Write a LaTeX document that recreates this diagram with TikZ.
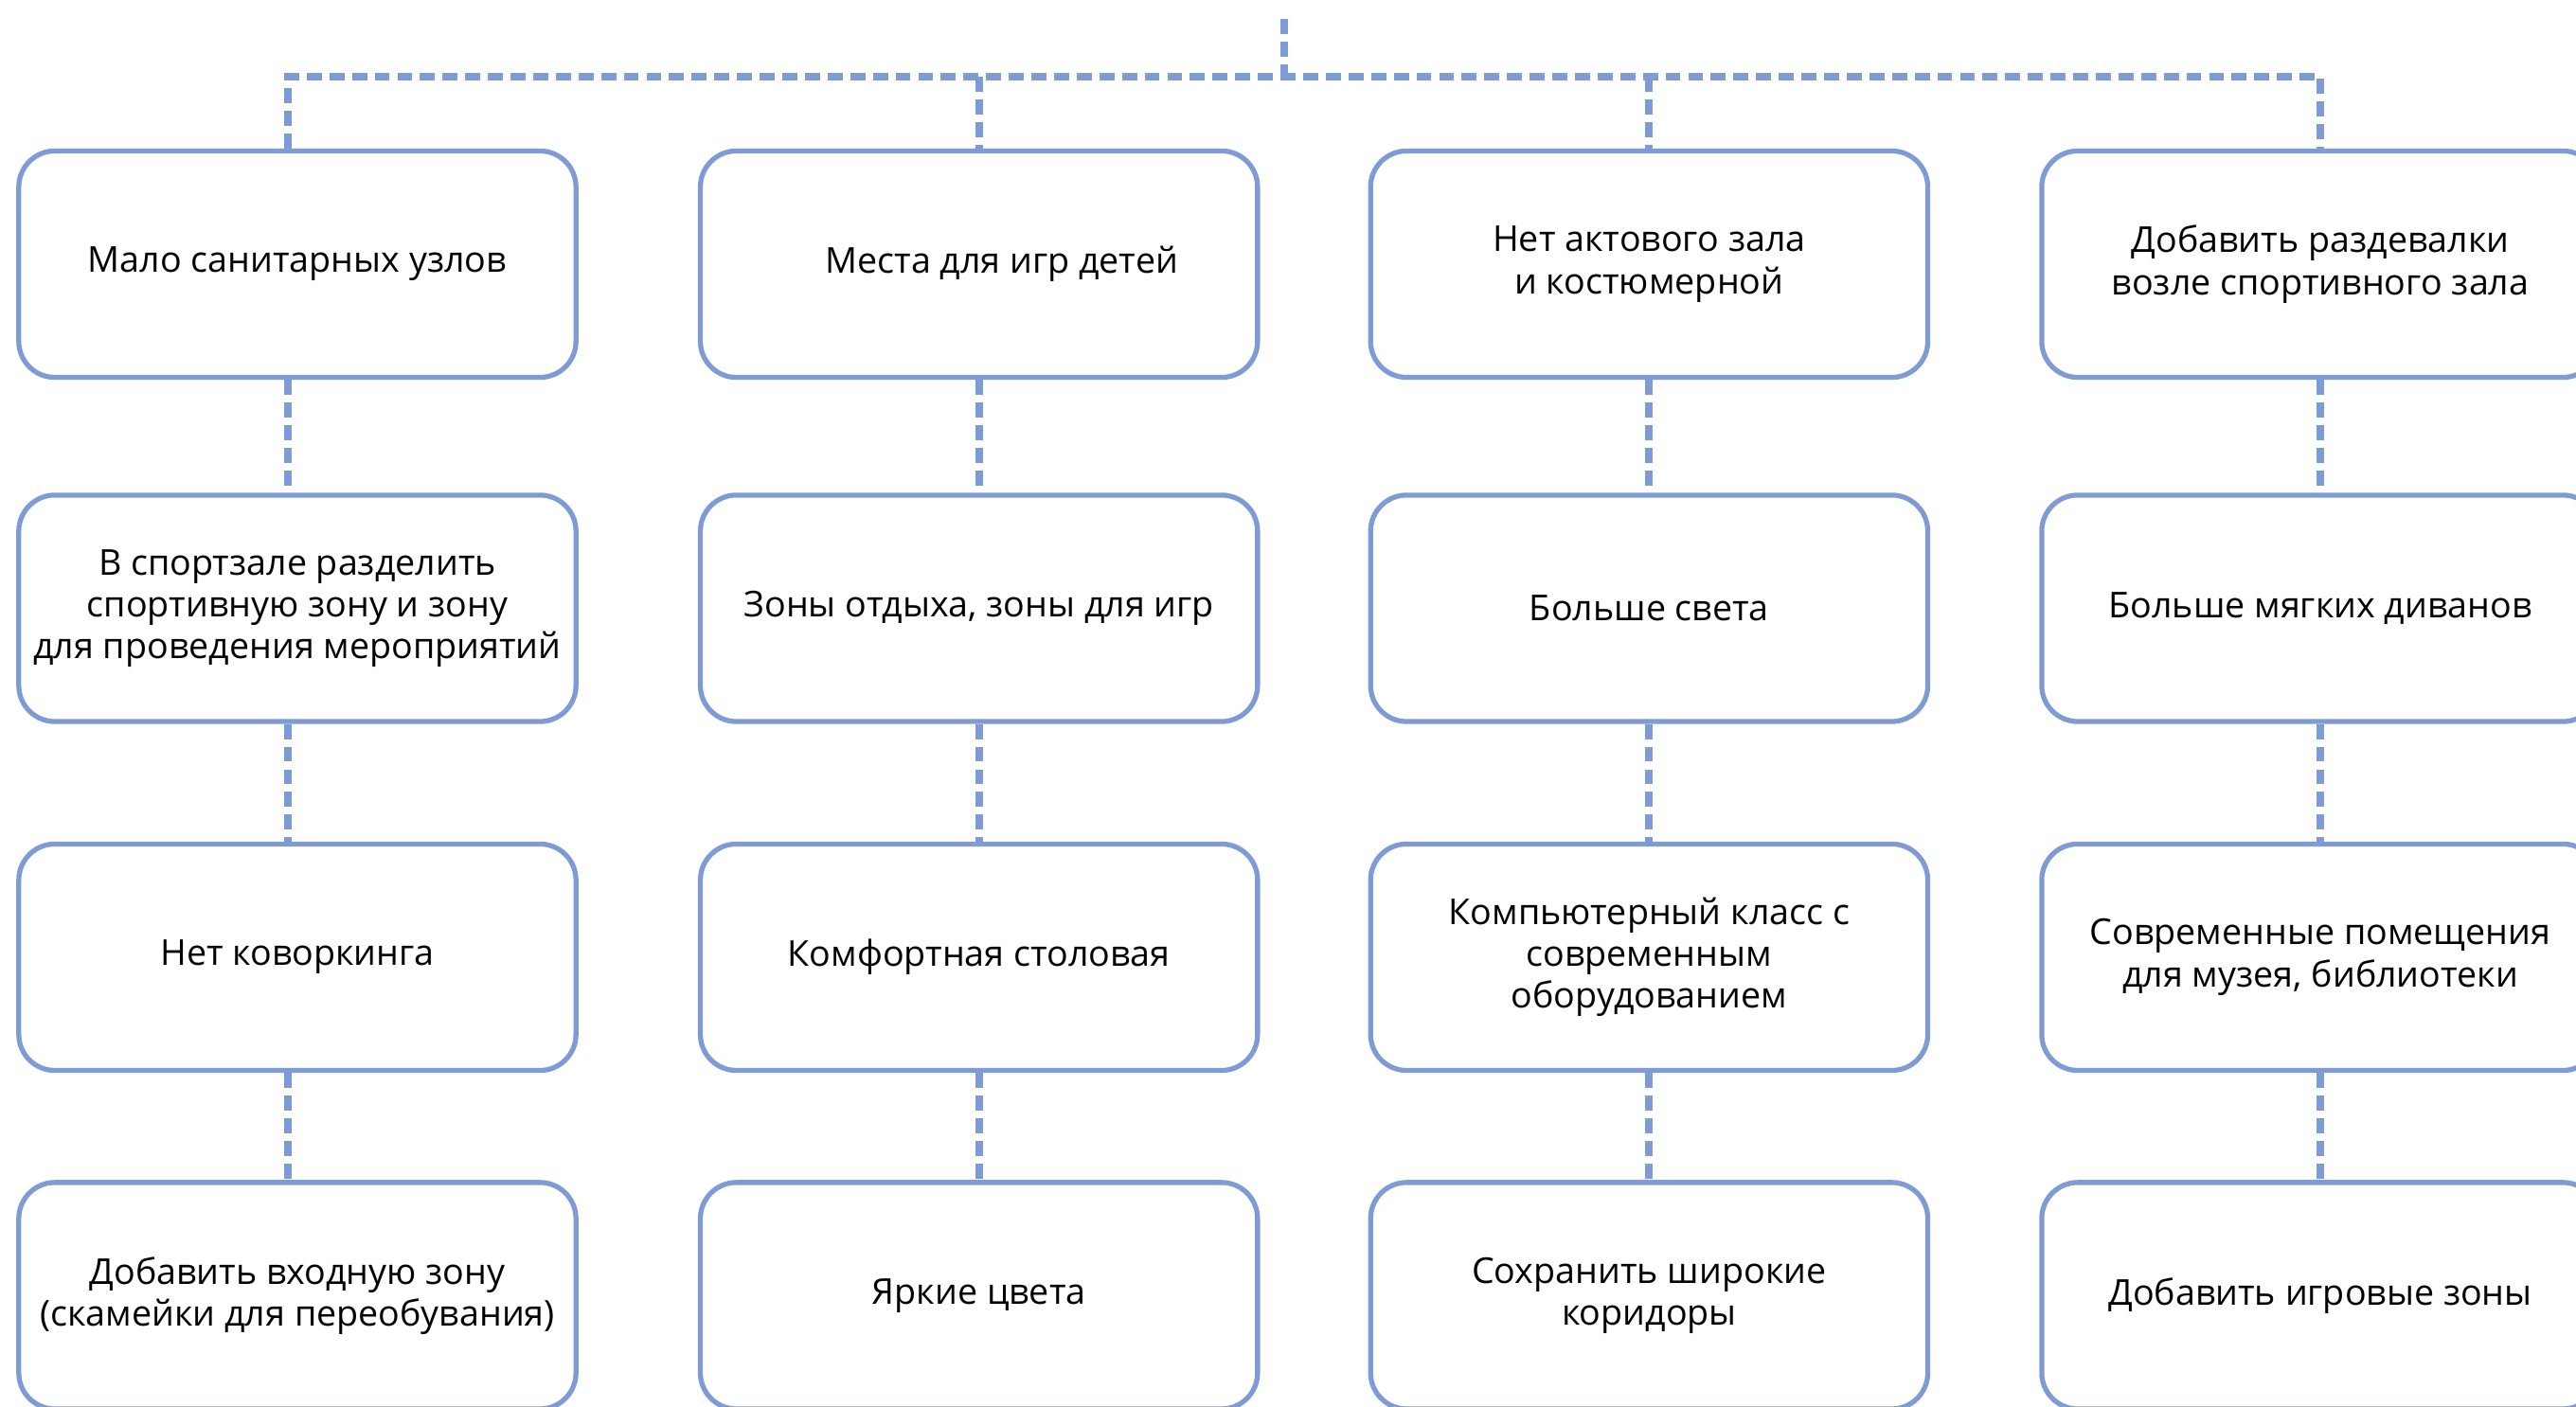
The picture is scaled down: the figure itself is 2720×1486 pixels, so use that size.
\documentclass[tikz,border=0pt]{standalone}
\usepackage{fontspec}
\setmainfont{Open Sans}
\usetikzlibrary{positioning}
\definecolor{schemeblue}{HTML}{7F9BD5}

\begin{document}
\begin{tikzpicture} [
    x=0.01cm, y=-0.01cm,
    node distance=1.19cm,
    idea/.style={rectangle, rounded corners=0.38cm, draw=schemeblue, line width=1.5pt,
                 minimum width=5.88cm, minimum height=2.39cm, align=center,
                 font=\fontsize{10.7}{12.6}\selectfont},
    link/.style={draw=schemeblue, line width=2.3pt, dash pattern=on 4.5pt off 2.3pt}
    ]
    \useasboundingbox (0,0) rectangle (2720,1486);
    %Nodes
    \node[idea]      (sanuzly)                  at (314,279)                {Мало санитарных узлов};
    \node[idea]      (igry)       [right=1.26cm of sanuzly]                 {\hspace*{0.48cm}Места для игр детей};
    \node[idea]      (aktzal)     [right=1.14cm of igry]                    {Нет актового зала\\и костюмерной};
    \node[idea]      (razdevalki) [right=1.15cm of aktzal]                  {Добавить раздевалки\\возле спортивного зала};
    \node[idea]      (sportzal)   [below=of sanuzly]                        {В спортзале разделить\\спортивную зону и зону\\для проведения мероприятий};
    \node[idea]      (otdyh)      [below=of igry]                           {Зоны отдыха, зоны для игр};
    \node[idea]      (svet)       [below=of aktzal]                         {Больше света};
    \node[idea]      (divany)     [below=of razdevalki]                     {Больше мягких диванов};
    \node[idea]      (kovorking)  [below=1.24cm of sportzal]                {Нет коворкинга};
    \node[idea]      (stolovaya)  [below=1.24cm of otdyh]                   {Комфортная столовая};
    \node[idea]      (kompklass)  [below=1.24cm of svet]                    {Компьютерный класс с\\современным\\оборудованием};
    \node[idea]      (muzej)      [below=1.24cm of divany]                  {Современные помещения\\для музея, библиотеки};
    \node[idea]      (vhod)       [below=1.13cm of kovorking]               {Добавить входную зону\\(скамейки для переобувания)};
    \node[idea]      (cveta)      [below=1.13cm of stolovaya]               {Яркие цвета};
    \node[idea]      (koridory)   [below=1.13cm of kompklass]               {Сохранить широкие\\коридоры};
    \node[idea]      (igrzony)    [below=1.13cm of muzej]                   {Добавить игровые зоны};
    \coordinate      (top)                      at (1356,20);
    \coordinate      (hub)                      at (1356,81);
    %Lines
    \draw[link] (top) -- (hub);
    \draw[link] ([xshift=-1mm]sanuzly.north) -- ([xshift=-1mm]sanuzly.north |- hub) -- (razdevalki.north |- hub) -- (razdevalki.north);
    \draw[link] (igry.north |- hub) -- (igry.north);
    \draw[link] (aktzal.north |- hub) -- (aktzal.north);
    \draw[link] ([xshift=-1mm]sanuzly.south) -- ([xshift=-1mm]sportzal.north);
    \draw[link] ([xshift=-1mm]sportzal.south) -- ([xshift=-1mm]kovorking.north);
    \draw[link] ([xshift=-1mm]kovorking.south) -- ([xshift=-1mm]vhod.north);
    \draw[link] (igry.south) -- (otdyh.north);
    \draw[link] (otdyh.south) -- (stolovaya.north);
    \draw[link] (stolovaya.south) -- (cveta.north);
    \draw[link] (aktzal.south) -- (svet.north);
    \draw[link] (svet.south) -- (kompklass.north);
    \draw[link] (kompklass.south) -- (koridory.north);
    \draw[link] (razdevalki.south) -- (divany.north);
    \draw[link] (divany.south) -- (muzej.north);
    \draw[link] (muzej.south) -- (igrzony.north);
\end{tikzpicture}
\end{document}
